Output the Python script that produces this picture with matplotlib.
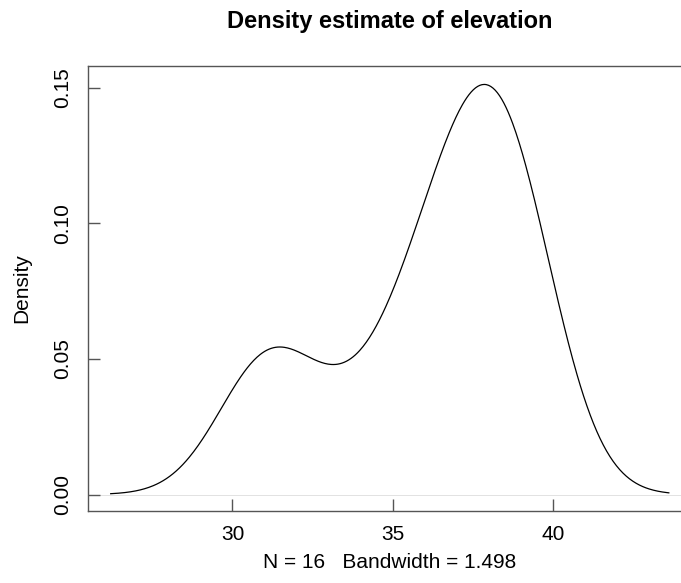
import numpy as np
import matplotlib
matplotlib.use('Agg')
from matplotlib import pyplot as plt

# elevation sample (estimated from the density shape), bandwidth from the label
elevation = [30.7, 31.1, 31.5, 33.6, 35.3, 35.9, 36.4, 36.9,
             37.3, 37.7, 38.0, 38.3, 38.6, 38.9, 39.1, 39.1]
bandwidth = 1.498
x_ticks = [30, 35, 40]
y_ticks = [0.00, 0.05, 0.10, 0.15]
y_tick_labels = ['0.00', '0.05', '0.10', '0.15']

plt.rcParams['font.family'] = ['Liberation Sans', 'DejaVu Sans']

# gaussian kernel density, like R's density() with cut = 3
pts = np.array(elevation)
n = len(pts)
grid = np.linspace(pts.min() - 3 * bandwidth, pts.max() + 3 * bandwidth, 512)
z = (grid[:, None] - pts[None, :]) / bandwidth
dens = np.exp(-0.5 * z ** 2).sum(axis=1) / (n * bandwidth * np.sqrt(2 * np.pi))

fig = plt.figure(figsize=(6.81, 5.83), dpi=100)
ax = fig.add_axes([0.1288, 0.1235, 0.8866, 0.7638])

axis_col = '#555555'
ax.axhline(0, color='#dddddd', linewidth=0.6, zorder=1)
ax.plot(grid, dens, color='black', linewidth=0.9, zorder=2)

ax.set_xlim(25.49, 44.30)
ax.set_ylim(-0.00608, 0.15808)
ax.set_xticks(x_ticks)
ax.set_yticks(y_ticks)
ax.set_yticklabels(y_tick_labels, rotation=90, va='center')

for s in ax.spines.values():
    s.set_color(axis_col)
    s.set_linewidth(1.0)
ax.tick_params(direction='in', length=8.5, width=1.0, color=axis_col,
               labelsize=15, labelcolor='black')
ax.tick_params(axis='x', pad=10)
ax.tick_params(axis='y', pad=11)

# title and axis labels placed like the R margins
fig.text(0.5721, 1 - 28 / 583, 'Density estimate of elevation',
         fontsize=17, fontweight='bold', ha='center', va='baseline')
fig.text(0.5721, 1 - 562 / 583, 'N = %d   Bandwidth = %.3f' % (n, bandwidth),
         fontsize=15, ha='center', va='center')
fig.text(22 / 681, 0.1235 + 0.7638 / 2, 'Density', fontsize=15,
         rotation=90, ha='center', va='center')

fig.savefig('out.png', dpi=100)
